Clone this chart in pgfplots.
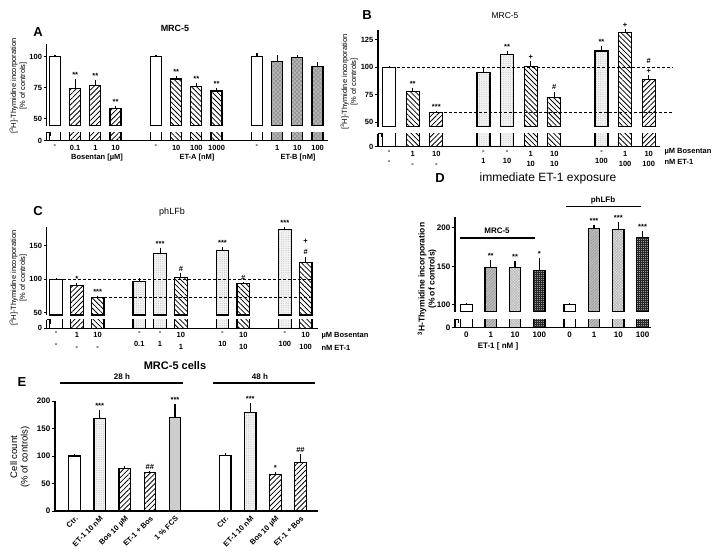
\documentclass[border=0pt]{standalone}
\usepackage{pgfplots}
\usepackage{pgfplotstable}
\pgfplotsset{compat=1.18}
\usepackage{fontspec}
\setmainfont{Liberation Sans}
\usetikzlibrary{patterns,patterns.meta}

\newcommand{\fs}[1]{\fontsize{#1}{#1}\selectfont}

\tikzset{
  ann/.style={anchor=south, inner sep=0.6pt, yshift=0.8pt, font=\bfseries\fs{7.5}},
}
\pgfplotsset{
  base/.style={
    enlargelimits=false, clip mode=individual,
    axis line style={-, line width=1.1pt},
    tick align=outside, major tick length=3pt,
    ytick style={black, line width=1pt},
    xtick style={draw=none},
    /pgf/number format/assume math mode=true,
    tick label style={font=\bfseries\fs{7.5}},
    yticklabel style={inner sep=1.5pt},
    xticklabel style={inner sep=1.5pt},
  },
  upper/.style={base, axis x line=none, axis y line*=left, xtick=\empty},
  lower/.style={base, axis x line*=bottom, axis y line*=left, ytick={0}},
  bars/.style={ybar, bar shift=0pt, bar width=#1, draw=black, line width=1.2pt,
    error bars/y dir=plus, error bars/y explicit, error bars/error mark=none,
    error bars/error bar style={line width=1.1pt, black}},
  pw/.style={fill=white},
  pne/.style={pattern={Lines[angle=45,distance=3.6pt,line width=0.8pt]}},
  pnw/.style={pattern={Lines[angle=-45,distance=3.6pt,line width=0.8pt]}},
  pdot/.style={fill=gray!10, postaction={pattern={Dots[radius=0.4pt,distance=2.2pt]}, pattern color=gray!65}},
  pchk/.style={fill=gray!55, postaction={pattern={Hatch[angle=45,distance=3pt,line width=0.7pt]}, pattern color=gray!85}},
  pd1/.style={fill=gray!50, postaction={pattern={Lines[angle=45,distance=2pt,line width=0.5pt]}, pattern color=gray!85}},
  pd2/.style={fill=gray!20, postaction={pattern={Hatch[angle=45,distance=2pt,line width=0.5pt]}, pattern color=gray!60}},
  pd3/.style={fill=gray!75, postaction={pattern={Hatch[angle=0,distance=2pt,line width=0.6pt]}, pattern color=black!85}},
  pfcs/.style={fill=gray!35, postaction={pattern={Dots[radius=0.45pt,distance=2pt]}, pattern color=gray!80}},
}

% ---------------- Panel A data ----------------
\pgfplotstableread{
x y e
0 100 1
5 100 1.2
10 100 3
}\Aw
\pgfplotstableread{
x y e
1 74.5 7.3
2 77 4
3 58.4 2
}\Ane
\pgfplotstableread{
x y e
6 82 2.7
7 76 3
8 72.4 2
}\Anw
\pgfplotstableread{
x y e
11 96.3 5
12 99.5 2
13 92.1 3.4
}\Achk
% ---------------- Panel B data ----------------
\pgfplotstableread{
x y e
0 100 1.5
}\Bw
\pgfplotstableread{
x y e
1 77.9 3.1
6 100.6 5.2
7 72.9 5.1
10 132 2.8
}\Bnw
\pgfplotstableread{
x y e
2 58.8 1.8
11 89 4
}\Bne
\pgfplotstableread{
x y e
4 95.5 4.2
5 112 3
9 114.8 4.2
}\Bdot
% ---------------- Panel C data ----------------
\pgfplotstableread{
x y e
0 100 1.5
}\Cw
\pgfplotstableread{
x y e
1 91 3
}\Cne
\pgfplotstableread{
x y e
2 73 2.5
6 102.5 7.5
9 93.5 2
12 125 8
}\Cnw
\pgfplotstableread{
x y e
4 97 4.5
5 138.5 9
8 143 6
11 174.5 3.5
}\Cdot
% ---------------- Panel D data ----------------
\pgfplotstableread{
x y e
0 100.8 2.2
4.25 101 2
}\Dw
\pgfplotstableread{
x y e
1 148 9.7
5.25 199 4.4
}\Done
\pgfplotstableread{
x y e
2 148 9
6.25 198 8.8
}\Dten
\pgfplotstableread{
x y e
3 145 16
7.25 187.6 7.7
}\Dhun
% ---------------- Panel E data ----------------
\pgfplotstableread{
x y e
0 100 3
6 101 5
}\Ew
\pgfplotstableread{
x y e
1 168.5 14.5
7 179 17
}\Edot
\pgfplotstableread{
x y e
2 78 4
3 69.7 2.3
8 67 4
9 88.5 15
}\Ene
\pgfplotstableread{
x y e
4 170 24.5
}\Efcs

\newcommand{\Aplots}{%
  \addplot[bars=11pt,pw] table[x=x,y=y,y error=e]{\Aw};
  \addplot[bars=11pt,pne] table[x=x,y=y,y error=e]{\Ane};
  \addplot[bars=11pt,pnw] table[x=x,y=y,y error=e]{\Anw};
  \addplot[bars=11pt,pchk] table[x=x,y=y,y error=e]{\Achk};
}
\newcommand{\Bplots}{%
  \addplot[bars=13pt,pw] table[x=x,y=y,y error=e]{\Bw};
  \addplot[bars=13pt,pnw] table[x=x,y=y,y error=e]{\Bnw};
  \addplot[bars=13pt,pne] table[x=x,y=y,y error=e]{\Bne};
  \addplot[bars=13pt,pdot] table[x=x,y=y,y error=e]{\Bdot};
}
\newcommand{\Cplots}{%
  \addplot[bars=12.5pt,pw] table[x=x,y=y,y error=e]{\Cw};
  \addplot[bars=12.5pt,pne] table[x=x,y=y,y error=e]{\Cne};
  \addplot[bars=12.5pt,pnw] table[x=x,y=y,y error=e]{\Cnw};
  \addplot[bars=12.5pt,pdot] table[x=x,y=y,y error=e]{\Cdot};
}
\newcommand{\Dplots}{%
  \addplot[bars=11.5pt,pw] table[x=x,y=y,y error=e]{\Dw};
  \addplot[bars=11.5pt,pd1] table[x=x,y=y,y error=e]{\Done};
  \addplot[bars=11.5pt,pd2] table[x=x,y=y,y error=e]{\Dten};
  \addplot[bars=11.5pt,pd3] table[x=x,y=y,y error=e]{\Dhun};
}

\begin{document}
\begin{tikzpicture}
\useasboundingbox (0,0) rectangle (720pt,-552pt);

% ======================= Panel A =======================
\begin{axis}[upper, at={(46.7pt,-125.5pt)}, anchor=south west,
  x=20.2pt, y=1.24pt, xmin=-0.41, xmax=13.51, ymin=44.5, ymax=110,
  ytick={50,75,100}]
  \Aplots
  \node[ann] at (axis cs:1,81.8) {**};
  \node[ann] at (axis cs:2,81) {**};
  \node[ann] at (axis cs:3,60.4) {**};
  \node[ann] at (axis cs:6,84.7) {**};
  \node[ann] at (axis cs:7,79) {**};
  \node[ann] at (axis cs:8,74.4) {**};
\end{axis}
\begin{axis}[lower, at={(46.7pt,-140.7pt)}, anchor=south west,
  x=20.2pt, y=1.24pt, xmin=-0.41, xmax=13.51, ymin=0, ymax=7,
  xtick={0,1,2,3,5,6,7,8,10,11,12,13},
  xticklabels={-,0.1,1,10,-,10,100,1000,-,1,10,100}]
  \Aplots
\end{axis}
\draw[line width=1pt] (46.7pt,-132pt) -- (50pt,-132pt) -- (50pt,-136pt);
\node[font=\bfseries\fs{13}] at (38pt,-32pt) {A};
\node[font=\bfseries\fs{9}] at (175pt,-28pt) {MRC-5};
\node[rotate=90, align=center, font=\fontsize{7.5}{9}\selectfont] at (18pt,-86pt) {{[}\textsuperscript{3}H]-Thymidine incorporation\\{[}\% of controls]};
\node[font=\bfseries\fs{7.5}] at (97pt,-158pt) {Bosentan [µM]};
\node[font=\bfseries\fs{7.5}] at (197pt,-158pt) {ET-A [nM]};
\node[font=\bfseries\fs{7.5}] at (298pt,-158pt) {ET-B [nM]};

% ======================= Panel B =======================
\begin{axis}[upper, at={(378pt,-126.7pt)}, anchor=south west,
  x=23.6pt, y=1.1pt, xmin=-0.47, xmax=11.48, ymin=46, ymax=134,
  ytick={50,75,100,125}]
  \Bplots
  \draw[line width=1pt, dash pattern=on 3pt off 2pt] (axis cs:0.34,100) -- (axis cs:12.03,100);
  \draw[line width=1pt, dash pattern=on 3pt off 2pt] (axis cs:2.33,58.5) -- (axis cs:12.03,58.5);
  \node[ann] at (axis cs:1,81) {**};
  \node[ann] at (axis cs:2,60.6) {***};
  \node[ann] at (axis cs:5,115) {**};
  \node[ann] at (axis cs:6,105.8) {+};
  \node[ann] at (axis cs:7,78) {\#};
  \node[ann] at (axis cs:9,119) {**};
  \node[ann] at (axis cs:10,134.8) {+};
  \node[ann] at (axis cs:11,93) {+};
  \node[ann] at (axis cs:11,102) {\#};
\end{axis}
\begin{axis}[lower, at={(378pt,-146.7pt)}, anchor=south west,
  x=23.6pt, y=1.1pt, xmin=-0.47, xmax=11.48, ymin=0, ymax=12,
  xtick={0,1,2,4,5,6,7,9,10,11},
  xticklabel style={align=center, font=\bfseries\fontsize{7.5}{10}\selectfont, inner sep=1pt},
  xticklabels={{-\\-},{1\\-},{10\\-},{-\\1},{-\\10},{1\\10},{10\\10},{-\\100},{1\\100},{10\\100}}]
  \Bplots
\end{axis}
\draw[line width=1pt] (378pt,-133.3pt) -- (381.3pt,-133.3pt) -- (381.3pt,-137.3pt);
\node[font=\bfseries\fs{13}] at (367pt,-15pt) {B};
\node[font=\fs{8.5}] at (505pt,-16pt) {MRC-5};
\node[rotate=90, align=center, font=\fontsize{7.5}{9}\selectfont] at (349pt,-82pt) {{[}\textsuperscript{3}H]-Thymidine incorporation\\{[}\% of controls]};
\node[anchor=west, font=\bfseries\fs{7.5}] at (661pt,-151.5pt) {µM Bosentan};
\node[anchor=west, font=\bfseries\fs{7.5}] at (661pt,-161.5pt) {nM ET-1};

% ======================= Panel C =======================
\begin{axis}[upper, at={(46.7pt,-315pt)}, anchor=south west,
  x=20.8pt, y=0.667pt, xmin=-0.45, xmax=12.6, ymin=46.5, ymax=179,
  ytick={50,100,150}]
  \Cplots
  \draw[line width=1pt, dash pattern=on 3pt off 2pt] (axis cs:0.35,100) -- (axis cs:12.36,100);
  \draw[line width=1pt, dash pattern=on 3pt off 2pt] (axis cs:2.3,73) -- (axis cs:12.36,73);
  \node[ann] at (axis cs:1,94) {*};
  \node[ann] at (axis cs:2,75.5) {***};
  \node[ann] at (axis cs:5,147.5) {***};
  \node[ann] at (axis cs:6,110) {\#};
  \node[ann] at (axis cs:8,149) {***};
  \node[ann] at (axis cs:9,95.5) {\#};
  \node[ann] at (axis cs:11,178) {***};
  \node[ann] at (axis cs:12,135) {\#};
  \node[ann] at (axis cs:12,152) {+};
\end{axis}
\begin{axis}[lower, at={(46.7pt,-328.3pt)}, anchor=south west,
  x=20.8pt, y=0.667pt, xmin=-0.45, xmax=12.6, ymin=0, ymax=13,
  xtick={0,1,2,4,5,6,8,9,11,12},
  xticklabel style={align=center, font=\bfseries\fontsize{7.5}{11.5}\selectfont, inner sep=1pt},
  xticklabels={{-\\-},{1\\-},{10\\-},{-\\0.1},{-\\1},{10\\1},{-\\10},{10\\10},{-\\100},{10\\100}}]
  \Cplots
\end{axis}
\draw[line width=1pt] (46.7pt,-319.5pt) -- (50pt,-319.5pt) -- (50pt,-323.5pt);
\node[font=\bfseries\fs{13}] at (38pt,-211pt) {C};
\node[font=\fs{9}] at (172pt,-212pt) {phLFb};
\node[rotate=90, align=center, font=\fontsize{7.5}{9}\selectfont] at (18pt,-278pt) {{[}\textsuperscript{3}H]-Thymidine incorporation\\{[}\% of controls]};
\node[anchor=west, font=\bfseries\fs{7.5}] at (318pt,-336pt) {µM Bosentan};
\node[anchor=west, font=\bfseries\fs{7.5}] at (318pt,-347.5pt) {nM ET-1};

% ======================= Panel D =======================
\begin{axis}[upper, at={(455pt,-311.7pt)}, anchor=south west,
  x=24.3pt, y=0.773pt, xmin=-0.47, xmax=7.6, ymin=91.3, ymax=214,
  ytick={100,150,200}, tick label style={font=\bfseries\fs{8}}]
  \Dplots
  \node[ann] at (axis cs:1,157.7) {**};
  \node[ann] at (axis cs:2,157) {**};
  \node[ann] at (axis cs:3,161) {*};
  \node[ann] at (axis cs:5.25,203.4) {***};
  \node[ann] at (axis cs:6.25,206.8) {***};
  \node[ann] at (axis cs:7.25,195.3) {***};
\end{axis}
\begin{axis}[lower, at={(455pt,-327.7pt)}, anchor=south west,
  x=24.3pt, y=0.773pt, xmin=-0.47, xmax=7.6, ymin=0, ymax=10.9,
  tick label style={font=\bfseries\fs{8}},
  xtick={0,1,2,3,4.25,5.25,6.25,7.25},
  xticklabels={0,1,10,100,0,1,10,100}]
  \Dplots
\end{axis}
\draw[line width=1pt] (455pt,-319.3pt) -- (458.3pt,-319.3pt) -- (458.3pt,-323.3pt);
\node[font=\bfseries\fs{13}] at (440pt,-178pt) {D};
\node[font=\fs{12}] at (548pt,-178pt) {immediate ET-1 exposure};
\draw[line width=1.2pt] (460pt,-238pt) -- (535pt,-238pt);
\node[font=\bfseries\fs{8}] at (497pt,-231pt) {MRC-5};
\draw[line width=1.2pt] (566pt,-206.7pt) -- (641pt,-206.7pt);
\node[font=\bfseries\fs{8}] at (603pt,-200pt) {phLFb};
\node[font=\bfseries\fs{8}] at (498pt,-346pt) {ET-1 [ nM ]};
\node[rotate=90, align=center, font=\bfseries\fontsize{8.5}{10}\selectfont] at (427pt,-279pt) {\textsuperscript{3}H-Thymidine incorporation\\(\% of controls)};

% ======================= Panel E =======================
\begin{axis}[base, axis x line*=bottom, axis y line*=left,
  at={(55pt,-511pt)}, anchor=south west,
  x=25.1pt, y=0.55pt, xmin=-0.78, xmax=9.7, ymin=0, ymax=200,
  ytick={0,50,100,150,200}, minor y tick num=4, minor tick length=1.5pt,
  tick label style={font=\bfseries\fs{8}},
  xtick={0,1,2,3,4,6,7,8,9},
  xticklabels={Ctr.,ET-1 10 nM,Bos 10 µM,ET-1 + Bos,1 \% FCS,Ctr.,ET-1 10 nM,Bos 10 µM,ET-1 + Bos},
  xticklabel style={rotate=45, anchor=north east, inner sep=1pt, font=\bfseries\fs{7.5}}]
  \addplot[bars=11.5pt,pw] table[x=x,y=y,y error=e]{\Ew};
  \addplot[bars=11.5pt,pdot] table[x=x,y=y,y error=e]{\Edot};
  \addplot[bars=11.5pt,pne] table[x=x,y=y,y error=e]{\Ene};
  \addplot[bars=11.5pt,pfcs] table[x=x,y=y,y error=e]{\Efcs};
  \node[ann] at (axis cs:1,183) {***};
  \node[ann] at (axis cs:3,72) {\#\#};
  \node[ann] at (axis cs:4,194.5) {***};
  \node[ann] at (axis cs:7,196) {***};
  \node[ann] at (axis cs:8,71) {*};
  \node[ann] at (axis cs:9,103.6) {\#\#};
\end{axis}
\node[font=\bfseries\fs{11}] at (175pt,-366pt) {MRC-5 cells};
\node[font=\bfseries\fs{13}] at (22pt,-382pt) {E};
\node[font=\bfseries\fs{8}] at (122pt,-377pt) {28 h};
\draw[line width=1.2pt] (60pt,-383pt) -- (183pt,-383pt);
\node[font=\bfseries\fs{8}] at (260pt,-377pt) {48 h};
\draw[line width=1.2pt] (213pt,-383pt) -- (315pt,-383pt);
\node[rotate=90, align=center, font=\fontsize{9.5}{10.5}\selectfont] at (20pt,-457pt) {Cell count\\(\% of controls)};
\end{tikzpicture}
\end{document}
